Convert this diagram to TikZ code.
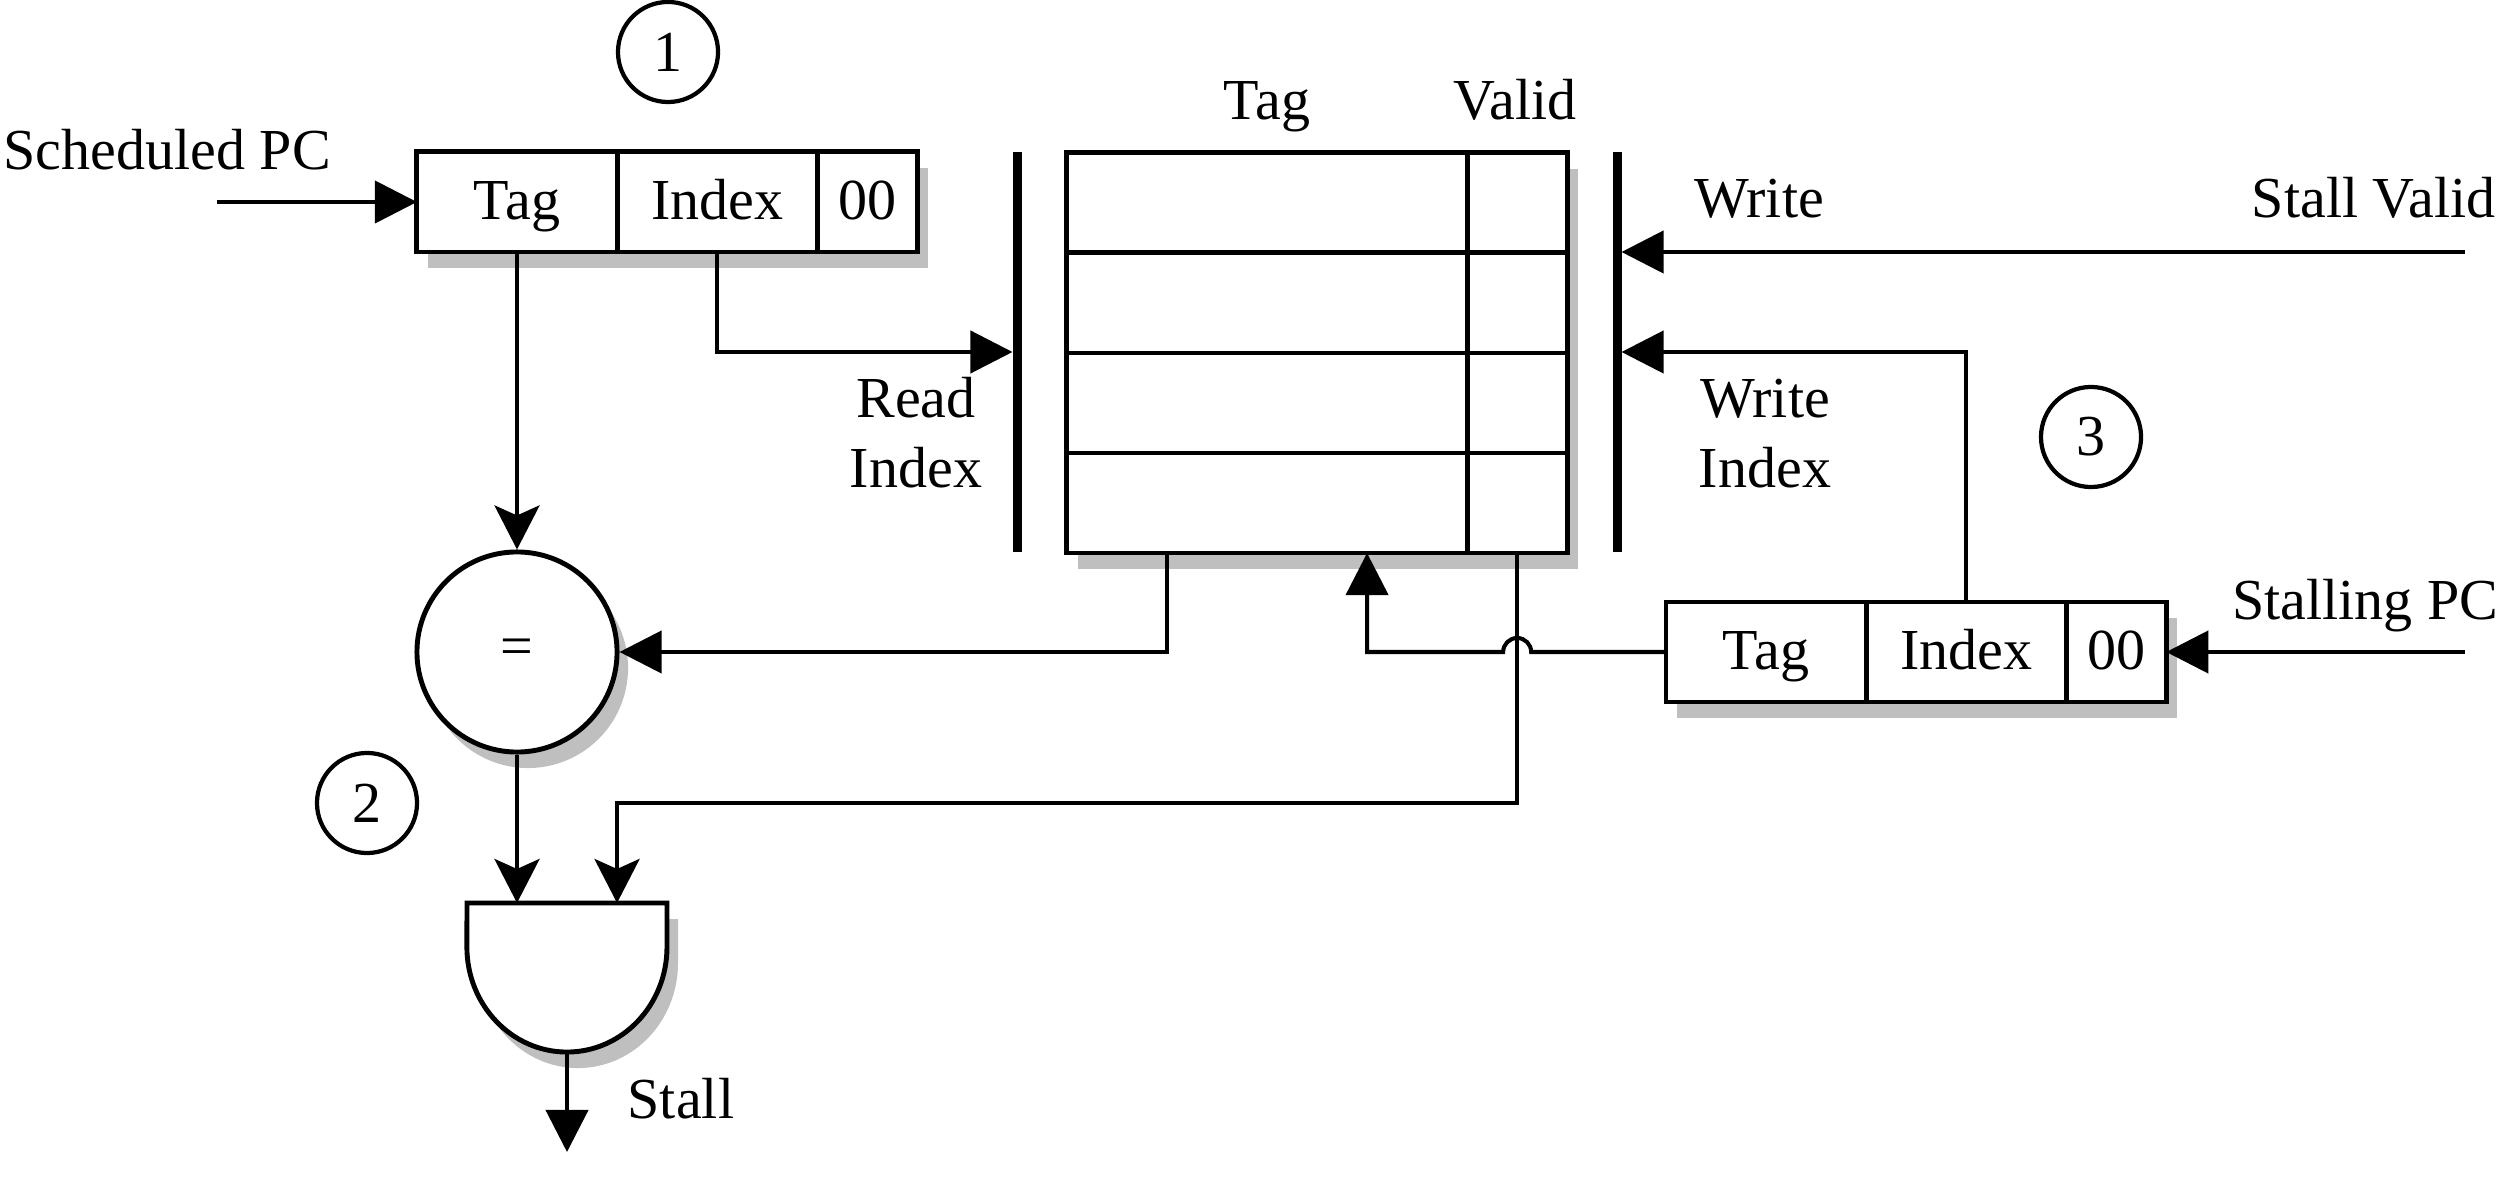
\documentclass[tikz,border=0pt]{standalone}
\usepackage{fontspec}
\setmainfont{Liberation Serif}
\usetikzlibrary{arrows.meta,shadows,positioning}

\tikzset{
  shade box/.style={general shadow={fill=black!25, shadow xshift=0.11cm, shadow yshift=-0.16cm}},
  field/.style={draw, line width=1.4pt, fill=white, outer sep=0pt, inner sep=0pt,
    minimum height=1cm, text height=11.5pt, text depth=1.5pt, shade box},
  cmp/.style={circle, draw, line width=1.4pt, fill=white, minimum size=2cm, inner sep=0pt, shade box},
  gate/.style={draw, line width=1.4pt, fill=white, shade box},
  bar/.style={fill=black, minimum width=0.09cm, minimum height=4cm, inner sep=0pt, outer sep=0pt},
  num/.style={circle, draw, line width=1.2pt, minimum size=1cm, inner sep=0pt},
  lbl/.style={inner sep=0pt},
  wire/.style={line width=1.15pt},
  arr/.style={-{Triangle[length=0.42cm,width=0.42cm]}},
  sarr/.style={-{Stealth[length=0.44cm,width=0.45cm,inset=0.1cm]}}
}

\begin{document}
\begin{tikzpicture}[x=0.01cm, y=-0.01cm, font=\fontsize{16.5}{20}\selectfont]
\useasboundingbox (0,0) rectangle (2510,1195);
% scheduled PC register
\node[field, minimum width=2cm] (regTag) at (517,202) {Tag};
\node[field, minimum width=2cm, anchor=west] (regIdx) at (regTag.east) {Index};
\node[field, minimum width=1cm, anchor=west] (regOff) at (regIdx.east) {00};
% tag store
\foreach \r in {1,...,4}
{
        \pgfmathsetmacro{\y}{103 + 100 * \r};
        \node[field, minimum width=4cm] (tag\r) at (1267,\y) {};
        \node[field, minimum width=1cm, anchor=west] (vld\r) at (tag\r.east) {};
}
\node[lbl, anchor=base] (hdTag) at (1267,120) {Tag};
\node[lbl, anchor=base] (hdVld) at (1515,120) {Valid};
\node[bar] (rdbar) at (1017,352) {};
\node[bar] (wrbar) at (1617,352) {};
% stalling PC register
\node[field, minimum width=2cm] (botTag) at (1766,652) {Tag};
\node[field, minimum width=2cm, anchor=west] (botIdx) at (botTag.east) {Index};
\node[field, minimum width=1cm, anchor=west] (botOff) at (botIdx.east) {00};
% compare and gate
\node[cmp] (eq) at (517,652) {=};
\path[gate] (467,903) -- (667,903) -- (667,947)
  arc[start angle=0, end angle=-180, x radius=1cm, y radius=1.05cm] -- cycle;
\coordinate (andIn) at (567,903);
\coordinate (andOut) at (567,1052);
% labels
\node[lbl, anchor=base west] (schLbl) at (3,170) {Scheduled PC};
\node[lbl, align=center, anchor=base] (rdLbl) at (916,488) {Read\\Index};
\node[lbl, anchor=base] (wrLbl) at (1759,218) {Write};
\node[lbl, align=center, anchor=base] (wiLbl) at (1765,488) {Write\\Index};
\node[lbl, anchor=base east] (svLbl) at (2496,218) {Stall Valid};
\node[lbl, anchor=base east] (spLbl) at (2499,620) {Stalling PC};
\node[lbl, anchor=base west] (stLbl) at (627,1118) {Stall};
\node[num] (n1) at (668,52) {1};
\node[num] (n2) at (367,803) {2};
\node[num] (n3) at (2091,437) {3};
% free ends
\coordinate (schIn) at (217,202);
\coordinate (svIn) at (2465,252);
\coordinate (spIn) at (2465,652);
\coordinate (stOut) at (567,1152);
\coordinate (hop) at (vld4.south |- botTag.west);
% wires
\draw[wire, arr] (schIn) -- (regTag.west);
\draw[wire, sarr] (regTag.south) -- (eq.north);
\draw[wire, arr] (regIdx.south) |- (rdbar.west);
\draw[wire, arr] (svIn) -- (svIn -| wrbar.east);
\draw[wire, arr] (botIdx.north) |- (wrbar.east);
\draw[wire, arr] (spIn) -- (botOff.east);
\draw[wire, arr] ([xshift=-1cm]tag4.south) |- (eq.east);
\draw[wire, arr] (botTag.west) -- ([xshift=0.14cm]hop)
  arc[start angle=0, end angle=180, radius=0.14cm] -| ([xshift=1cm]tag4.south);
\draw[wire, sarr] (vld4.south) |- ([xshift=0.5cm, yshift=1cm]andIn) -- ([xshift=0.5cm]andIn);
\draw[wire, sarr] (eq.south) -- (eq.south |- andIn);
\draw[wire, arr] (andOut) -- (stOut);
\end{tikzpicture}
\end{document}
